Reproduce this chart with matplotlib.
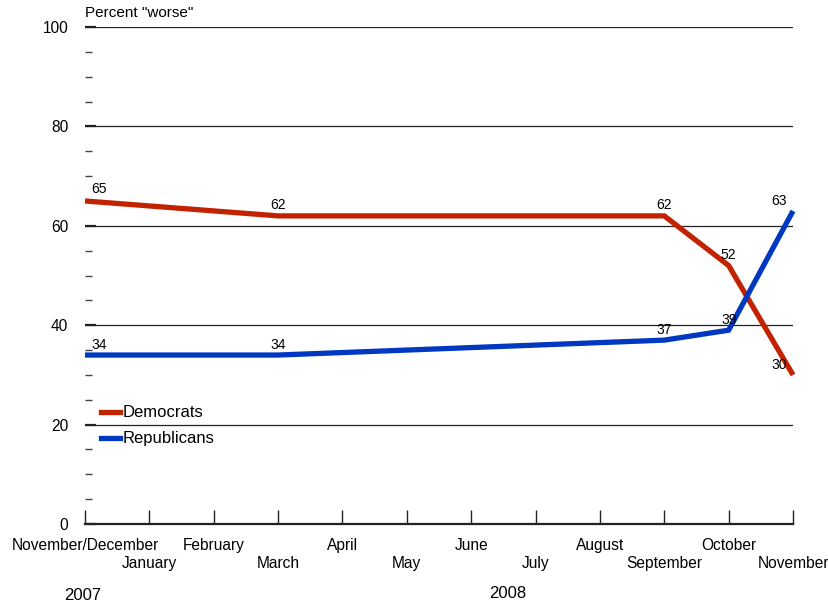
import matplotlib.pyplot as plt
from matplotlib.ticker import MultipleLocator

plt.rcParams['font.family'] = ['Liberation Sans', 'DejaVu Sans']

# -----------------------------
# DATA
# -----------------------------
months = ["November/December", "January", "February", "March", "April", "May",
          "June", "July", "August", "September", "October", "November"]

dem_x = [0, 3, 9, 10, 11]
dem_y = [65, 62, 62, 52, 30]

rep_x = [0, 3, 9, 10, 11]
rep_y = [34, 34, 37, 39, 63]

RED = "#C32200"
BLUE = "#0038C2"

# -----------------------------
# FIGURE
# -----------------------------
fig = plt.figure(figsize=(8.29, 6.06), dpi=100)
ax = fig.add_axes([0.1025, 0.1353, 0.8541, 0.8201])

ax.plot(dem_x, dem_y, color=RED, linewidth=3.8, solid_joinstyle="miter",
        solid_capstyle="butt", clip_on=False, zorder=3)
ax.plot(rep_x, rep_y, color=BLUE, linewidth=3.8, solid_joinstyle="miter",
        solid_capstyle="butt", clip_on=False, zorder=3)

ax.set_xlim(0, 11)
ax.set_ylim(0, 100)

# gridlines every 20
for yv in [20, 40, 60, 80, 100]:
    ax.axhline(yv, color="#222222", linewidth=0.9, zorder=1)

# y ticks
ax.yaxis.set_major_locator(MultipleLocator(20))
ax.yaxis.set_minor_locator(MultipleLocator(5))
ax.tick_params(axis="y", which="major", direction="in", length=8, width=1.6,
               color="#222222", labelsize=11.2, pad=12)
ax.tick_params(axis="y", which="minor", direction="in", length=5, width=1,
               color="#444444")

# x ticks, month names staggered over two rows
ax.set_xticks(range(len(months)))
ax.set_xticklabels([])
ax.tick_params(axis="x", direction="in", length=10, width=1, color="#222222")
for i, m in enumerate(months):
    drop = 21 if i % 2 == 0 else 39
    ax.annotate(m, (i, 0), xycoords=("data", "axes fraction"),
                xytext=(0, -drop), textcoords="offset pixels",
                ha="center", va="center", fontsize=11.2, annotation_clip=False)

for side in ["left", "right", "top"]:
    ax.spines[side].set_visible(False)
ax.spines["bottom"].set_linewidth(1.6)
ax.spines["bottom"].set_color("#222222")

# value labels
dem_offsets = [(14, 5), (0, 4), (0, 4), (0, 4), (-14, 3)]
for x, y, (dx, dy) in zip(dem_x, dem_y, dem_offsets):
    ax.annotate(str(y), (x, y), xytext=(dx, dy), textcoords="offset pixels",
                ha="center", va="bottom", fontsize=10)

rep_offsets = [(14, 3), (0, 3), (0, 3), (0, 3), (-14, 3)]
for x, y, (dx, dy) in zip(rep_x, rep_y, rep_offsets):
    ax.annotate(str(y), (x, y), xytext=(dx, dy), textcoords="offset pixels",
                ha="center", va="bottom", fontsize=10)

# legend drawn by hand
ax.plot([0.25, 0.55], [22.5, 22.5], color=RED, linewidth=3.8, clip_on=False)
ax.text(0.58, 22.5, "Democrats", va="center", ha="left", fontsize=12)
ax.plot([0.25, 0.55], [17.3, 17.3], color=BLUE, linewidth=3.8, clip_on=False)
ax.text(0.58, 17.3, "Republicans", va="center", ha="left", fontsize=12)

ax.text(0.0, 101.5, 'Percent "worse"', ha="left", va="bottom", fontsize=11)

# year labels
fig.text(83 / 829, 1 - 596 / 606, "2007", ha="center", va="center", fontsize=12)
fig.text(508 / 829, 1 - 594 / 606, "2008", ha="center", va="center", fontsize=12)

fig.savefig("out.png", dpi=100)
